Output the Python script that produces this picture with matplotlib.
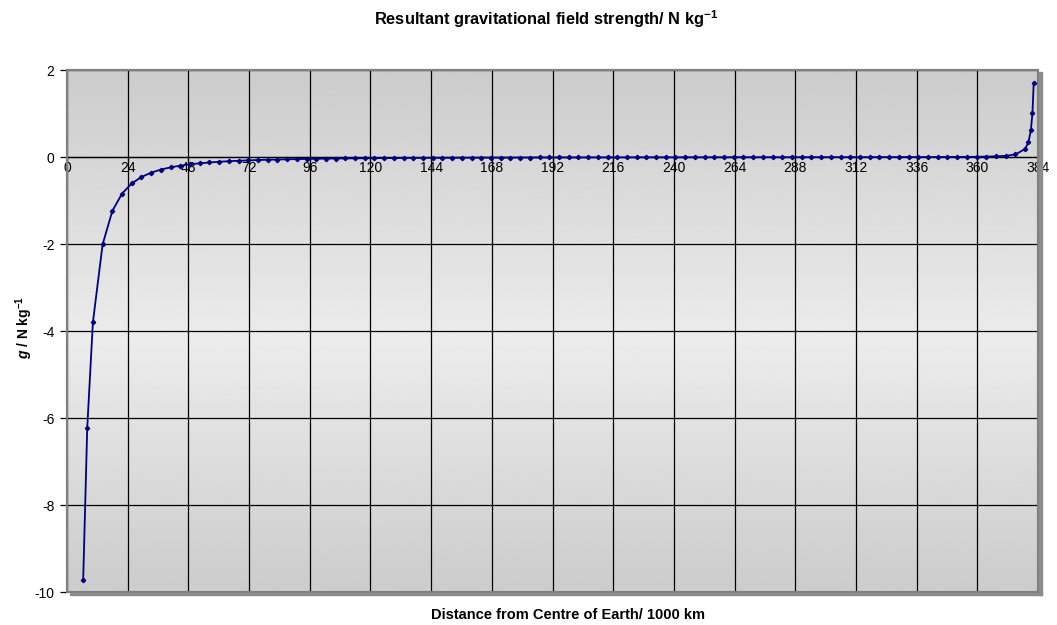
import numpy as np
import matplotlib
matplotlib.use("Agg")
import matplotlib.pyplot as plt
from matplotlib.patches import Rectangle

plt.rcParams['font.family'] = ['Liberation Sans', 'DejaVu Sans']
plt.rcParams['mathtext.fontset'] = 'custom'
plt.rcParams['mathtext.rm'] = 'Liberation Sans:bold'
plt.rcParams['mathtext.it'] = 'Liberation Sans:bold:italic'
plt.rcParams['mathtext.bf'] = 'Liberation Sans:bold'

# Distance from centre of Earth / 1000 km
distance = [
    6.4, 8.0, 10.24, 14.08, 17.92, 21.76, 25.6, 29.44, 33.28, 37.12, 40.96,
    44.8, 48.64, 52.48, 56.32, 60.16, 64.0, 67.84, 71.68, 75.52, 79.36,
    83.2, 87.04, 90.88, 94.72, 98.56, 102.4, 106.24, 110.08, 113.92, 117.76,
    121.6, 125.44, 129.28, 133.12, 136.96, 140.8, 144.64, 148.48, 152.32, 156.16,
    160.0, 163.84, 167.68, 171.52, 175.36, 179.2, 183.04, 186.88, 190.72, 194.56,
    198.4, 202.24, 206.08, 209.92, 213.76, 217.6, 221.44, 225.28, 229.12, 232.96,
    236.8, 240.64, 244.48, 248.32, 252.16, 256.0, 259.84, 263.68, 267.52, 271.36,
    275.2, 279.04, 282.88, 286.72, 290.56, 294.4, 298.24, 302.08, 305.92, 309.76,
    313.6, 317.44, 321.28, 325.12, 328.96, 332.8, 336.64, 340.48, 344.32, 348.16,
    352.0, 355.84, 359.68, 363.52, 367.36, 371.2, 375.04, 378.88,
    380.2, 381.2, 381.8, 382.3,
]
# Resultant g / N kg^-1
field = [
    -9.731, -6.228, -3.801, -2.011, -1.241, -0.842, -0.608, -0.460, -0.360, -0.289, -0.238,
    -0.199, -0.168, -0.145, -0.126, -0.110, -0.097, -0.087, -0.078, -0.070, -0.063,
    -0.058, -0.053, -0.048, -0.044, -0.041, -0.038, -0.035, -0.033, -0.031, -0.029,
    -0.027, -0.025, -0.024, -0.022, -0.021, -0.020, -0.019, -0.018, -0.017, -0.016,
    -0.016, -0.015, -0.014, -0.014, -0.013, -0.012, -0.012, -0.011, -0.011, -0.010,
    -0.010, -0.010, -0.009, -0.009, -0.009, -0.008, -0.008, -0.008, -0.007, -0.007,
    -0.007, -0.007, -0.006, -0.006, -0.006, -0.006, -0.006, -0.005, -0.005, -0.005,
    -0.005, -0.005, -0.005, -0.004, -0.004, -0.004, -0.004, -0.004, -0.003, -0.003,
    -0.003, -0.003, -0.003, -0.002, -0.002, -0.002, -0.001, -0.001, 0.000, 0.001,
    0.002, 0.003, 0.005, 0.009, 0.015, 0.027, 0.058, 0.184,
    0.336, 0.622, 1.010, 1.693,
]
x_ticks = [0, 24, 48, 72, 96, 120, 144, 168, 192, 216, 240, 264, 288, 312, 336, 360, 384]
y_ticks = [-10, -8, -6, -4, -2, 0, 2]

title = "Resultant gravitational field strength/ N kg$^{-1}$"
xlabel = "Distance from Centre of Earth/ 1000 km"
ylabel = "$g$ / N kg$^{-1}$"

fig = plt.figure(figsize=(10.57, 6.25), dpi=100)
ax = fig.add_axes([67/1057, 1 - 592/625, (1038 - 67)/1057, (592 - 70)/625])

# gradient background of plot area
g = np.linspace(0, 1, 256)
top, mid, bot = 0.80, 0.925, 0.80
vals = np.where(g < 0.52, top + (mid - top) * (g / 0.52), mid + (bot - mid) * ((g - 0.52) / 0.48))
img = np.repeat(vals[:, None], 2, axis=1)
ax.imshow(img, cmap='gray', vmin=0, vmax=1, extent=[0, 1, 0, 1], transform=ax.transAxes,
          aspect='auto', zorder=0, interpolation='bilinear')

ax.set_xlim(0, 384)
ax.set_ylim(-10, 2)

ax.set_xticks(x_ticks)
ax.set_yticks(y_ticks)
ax.set_yticklabels([str(v) for v in y_ticks], fontsize=10)
ax.grid(True, color='black', linewidth=0.9, zorder=1)
ax.set_axisbelow(True)

for s in ['top', 'right', 'left']:
    ax.spines[s].set_color('#808080')
    ax.spines[s].set_linewidth(1.5)
ax.spines['bottom'].set_position(('data', 0))
ax.spines['bottom'].set_color('black')
ax.spines['bottom'].set_linewidth(0.9)
ax.tick_params(axis='x', direction='out', length=3, width=0.9, labelsize=10, pad=0)
ax.tick_params(axis='y', direction='out', length=5, width=0.9, labelsize=10, pad=4, color='black')

ax.add_patch(Rectangle((0, 0), 1, 1, transform=ax.transAxes, fill=False,
                       edgecolor='#808080', linewidth=1.5, zorder=3, clip_on=False))
fig.patches.append(Rectangle((1039/1057, 1 - 595/625), 2.5/1057, (595 - 72)/625,
                             transform=fig.transFigure, color='#8c8c8c', zorder=0))
fig.patches.append(Rectangle((70/1057, 1 - 595/625), (1041.5 - 70)/1057, 2.5/625,
                             transform=fig.transFigure, color='#8c8c8c', zorder=0))

ax.plot(distance, field, color='#000080', linewidth=1.3, marker='D', markersize=2.2,
        markerfacecolor='#000080', markeredgecolor='#000080', zorder=4, clip_on=False)

fig.text(546/1057, 1 - 19/625, title, ha='center', va='center', fontsize=11.8, fontweight='bold')
fig.text(568/1057, 1 - 615/625, xlabel, ha='center', va='center', fontsize=10.5, fontweight='bold')
fig.text(24/1057, 1 - 327/625, ylabel, ha='center', va='center', fontsize=10,
         fontweight='bold', rotation=90)

fig.savefig("out.png", dpi=100)
